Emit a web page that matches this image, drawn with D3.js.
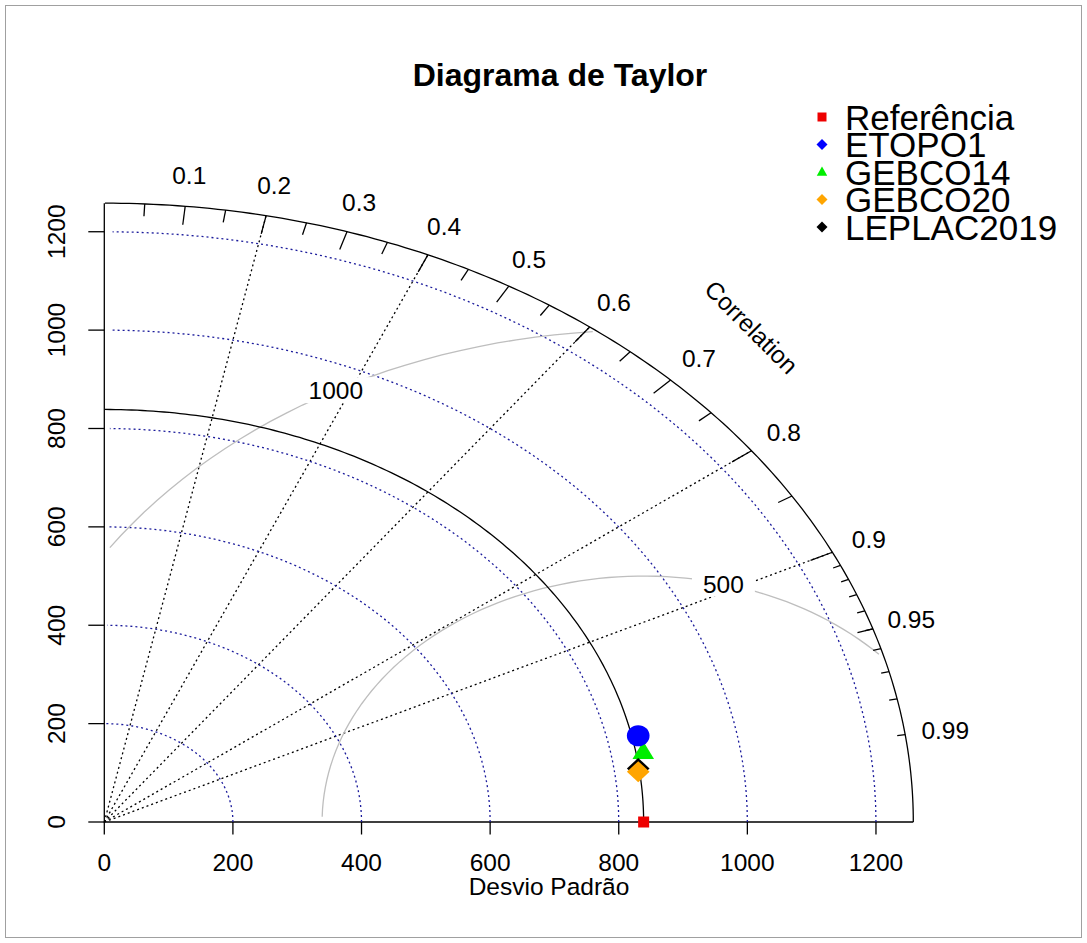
<!DOCTYPE html>
<html>
<head>
<meta charset="utf-8">
<script src="https://cdn.jsdelivr.net/npm/d3@7"></script>
<style>
  body { margin: 0; background: #fff; }
  svg { display: block; }
  text { font-family: "Liberation Sans", Arial, sans-serif; fill: #000; }
</style>
</head>
<body>
<svg id="chart" width="1087" height="943"></svg>
<script>
// ---- data ----
const refName = "Referência";
const refSd = 838.7;
const modelNames = ["ETOPO1", "GEBCO14", "GEBCO20", "LEPLAC2019"];
const modelSd = [848.6, 850.2, 836.6, 837.4];
const modelCor = [0.9784, 0.9858, 0.9925, 0.9915];
const sdTicks = [0, 200, 400, 600, 800, 1000, 1200];
const sdArcs = [200, 400, 600, 800, 1000, 1200];
const corrLines = [0.2, 0.4, 0.6, 0.8, 0.9];
const corrLabels = [0.1, 0.2, 0.3, 0.4, 0.5, 0.6, 0.7, 0.8, 0.9, 0.95, 0.99];
const rmsLevels = [500, 1000];

// ---- styling ----
const modelColors = ["#0000ff", "#00ee00", "#ffa500", "#000000"];
const modelShapes = ["circle", "triangle", "diamond", "diamond"];
const drawOrder = [1, 0, 3, 2];
const FS = 24.5;            // base font size
const svg = d3.select("#chart");

// frame around the figure
svg.append("rect").attr("x", 5.5).attr("y", 5.5).attr("width", 1076).attr("height", 932)
  .attr("fill", "none").attr("stroke", "#a0a0a0").attr("stroke-width", 1);

const maxsd = 1.5 * Math.max(refSd, modelSd[2]);
const x = d3.scaleLinear().domain([0, 1.1 * maxsd]).range([104.3, 994.2]);
const y = d3.scaleLinear().domain([0, 1.1 * maxsd]).range([822, 141.3]);

const line = d3.line().x(d => x(d[0])).y(d => y(d[1]));
const arcPts = (r, step, end) => d3.range(0, end, step).map(a => [Math.cos(a) * r, Math.sin(a) * r]);

function label(g, px, py, str, opt = {}) {
  const size = opt.size || FS;
  const rot = opt.rotate || 0;
  return g.append("text")
    .attr("transform", `translate(${px},${py}) rotate(${rot})`)
    .attr("text-anchor", opt.anchor || "middle")
    .attr("dy", opt.dy === undefined ? "0.36em" : opt.dy)
    .attr("font-size", size)
    .attr("font-weight", opt.weight || "normal")
    .text(str);
}

const g = svg.append("g");

// correlation rays
corrLines.forEach(c => {
  g.append("path").attr("d", line([[0, 0], [maxsd * c, maxsd * Math.sqrt(1 - c * c)]]))
    .attr("fill", "none").attr("stroke", "#000").attr("stroke-width", 1.3)
    .attr("stroke-dasharray", "2,3");
});

// axis lines
g.append("path").attr("d", line([[0, maxsd], [0, 0], [maxsd, 0]]))
  .attr("fill", "none").attr("stroke", "#000").attr("stroke-width", 1.3);

// x axis ticks + labels
sdTicks.forEach(t => {
  g.append("line").attr("x1", x(t)).attr("x2", x(t)).attr("y1", y(0)).attr("y2", y(0) + 12.5)
    .attr("stroke", "#000").attr("stroke-width", 1.3);
  label(g, x(t), 862, t);
});
// y axis ticks + labels
sdTicks.forEach(t => {
  g.append("line").attr("x1", x(0)).attr("x2", x(0) - 16).attr("y1", y(t)).attr("y2", y(t))
    .attr("stroke", "#000").attr("stroke-width", 1.3);
  label(g, 56, y(t), t, { rotate: -90 });
});

// standard deviation arcs
sdArcs.forEach(r => {
  g.append("path").attr("d", line(arcPts(r, 0.03, Math.PI / 2)))
    .attr("fill", "none").attr("stroke", "#1c1c9c").attr("stroke-width", 1.3)
    .attr("stroke-dasharray", "2,3");
});

// centred RMS difference curves
const labelPos = rmsLevels.length > 1
  ? rmsLevels.map((_, i) => Math.round(45 + i * (70 - 45) / (rmsLevels.length - 1))) : [45];
rmsLevels.forEach((gm, gi) => {
  const angs = d3.range(0, Math.PI, 0.03);
  const xc = angs.map(a => Math.cos(a) * gm + refSd);
  const yc = angs.map(a => Math.sin(a) * gm);
  let end = xc.findIndex(v => v < 0);
  end = end >= 0 ? end - 1 : xc.length - 1;
  let start = -1;
  xc.forEach((v, i) => { if (v * v + yc[i] * yc[i] > maxsd * maxsd) start = i; });
  start = start + 1;
  const pts = d3.range(start, end + 1).map(i => [xc[i], yc[i]]);
  g.append("path").attr("d", line(pts)).attr("fill", "none")
    .attr("stroke", "#bebebe").attr("stroke-width", 1.3);
  const li = labelPos[gi] - 1;
  if (xc[li] > 0) {
    const px = x(xc[li]), py = y(yc[li]);
    const w = String(gm).length * 0.556 * FS;
    g.append("rect").attr("x", px - w / 2 - 11).attr("y", py - 13).attr("width", w + 22).attr("height", 26)
      .attr("fill", "#fff");
    label(g, px, py, gm);
  }
});

// outer correlation arc
g.append("path").attr("d", line(arcPts(maxsd, 0.01, Math.PI / 2 + 0.001)))
  .attr("fill", "none").attr("stroke", "#000").attr("stroke-width", 1.3);

// correlation ticks
function ticks(vals, inner) {
  vals.forEach(c => {
    const s = Math.sqrt(1 - c * c);
    g.append("path").attr("d", line([[c * maxsd, s * maxsd], [c * inner * maxsd, s * inner * maxsd]]))
      .attr("stroke", "#000").attr("stroke-width", 1.3);
  });
}
ticks(d3.range(1, 10).map(i => i / 10), 0.97);

// reference standard deviation arc
g.append("path").attr("d", line(arcPts(refSd, 0.01, Math.PI / 2 + 0.001)))
  .attr("fill", "none").attr("stroke", "#000").attr("stroke-width", 1.3);

// correlation labels
corrLabels.forEach(c => {
  const s = Math.sqrt(1 - c * c);
  label(g, x(c * 1.05 * maxsd), y(s * 1.05 * maxsd), c);
});
label(g, x(maxsd * 0.8), y(maxsd * 0.8), "Correlation", { rotate: 45 });

ticks(d3.range(0, 10).map(i => 0.05 + i / 10), 0.98);
ticks(d3.range(1, 10).map(i => 0.9 + i / 100), 0.99);

// marker shapes
function shapePath(kind, r) {
  if (kind === "circle") return d3.symbol(d3.symbolCircle, Math.PI * r * r)();
  if (kind === "triangle") return `M0,${-r}L${r * 0.95},${r * 0.7}L${-r * 0.95},${r * 0.7}Z`;
  if (kind === "diamond") return `M0,${-r}L${r},0L0,${r}L${-r},0Z`;
  return `M${-r},${-r}H${r}V${r}H${-r}Z`;
}

// model points
drawOrder.forEach(i => {
  const c = modelCor[i], s = modelSd[i];
  g.append("path").attr("d", shapePath(modelShapes[i], 10.5))
    .attr("transform", `translate(${x(s * c)},${y(s * Math.sqrt(1 - c * c))}) scale(1.08,1)`)
    .attr("fill", modelColors[i]);
});
// reference point
g.append("path").attr("d", shapePath("square", 5.5))
  .attr("transform", `translate(${x(refSd)},${y(0)})`).attr("fill", "#ee0000");

// title and axis title
label(svg, 560, 86, "Diagrama de Taylor", { size: 32, weight: "bold", dy: 0 });
label(svg, 549, 895, "Desvio Padrão", { dy: 0 });

// legend
const legNames = [refName].concat(modelNames);
const legColors = ["#ee0000"].concat(modelColors);
const legShapes = ["square", "diamond", "triangle", "diamond", "diamond"];
const leg = svg.append("g");
legNames.forEach((n, i) => {
  const cy = 117 + i * 27.5;
  leg.append("path").attr("d", shapePath(legShapes[i], legShapes[i] === "square" ? 4.5 : 5.5))
    .attr("transform", `translate(822,${cy})`).attr("fill", legColors[i]);
  label(leg, 845, cy, n, { size: 35, anchor: "start" });
});
</script>
</body>
</html>
